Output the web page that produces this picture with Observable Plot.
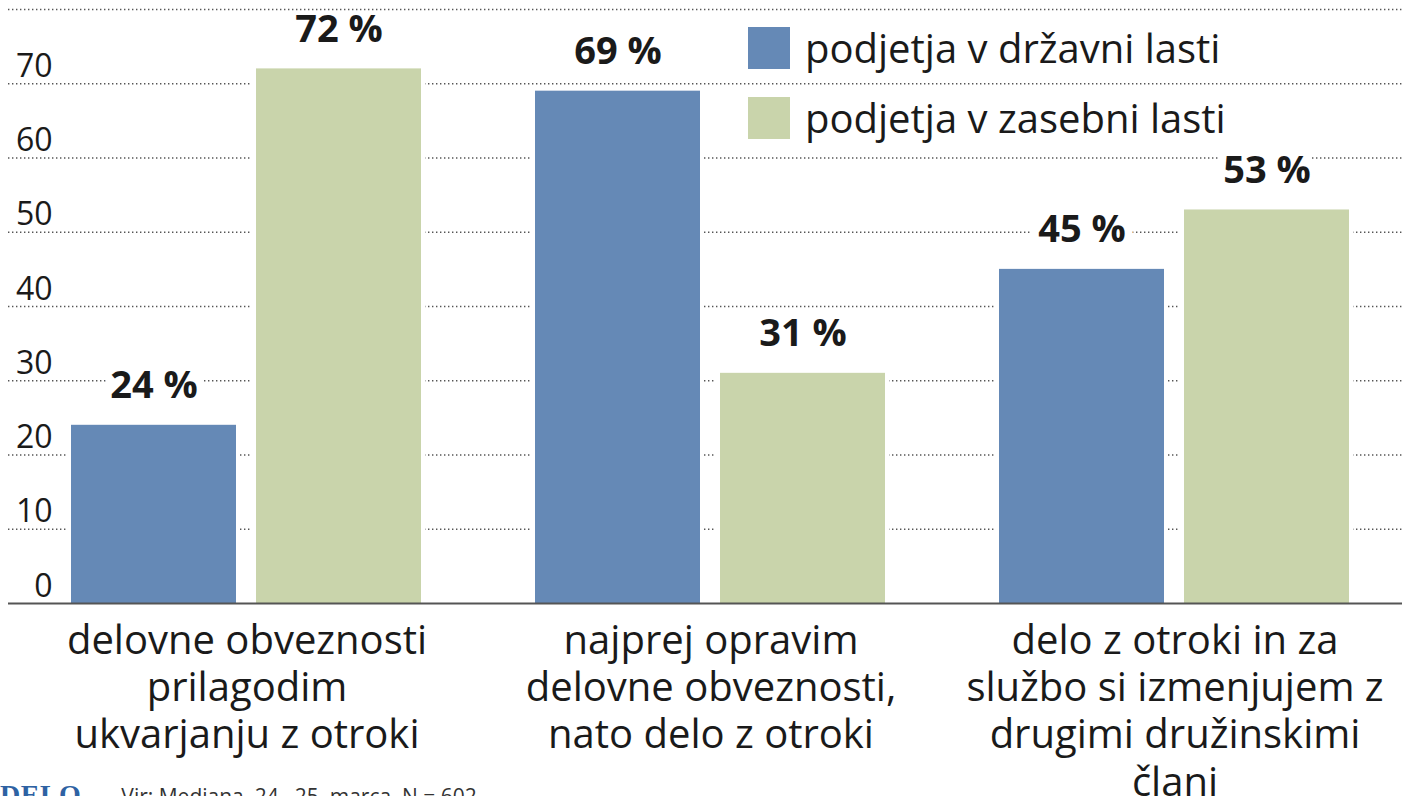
<!DOCTYPE html>
<html>
<head>
<meta charset="utf-8">
<script src="https://cdn.jsdelivr.net/npm/d3@7"></script>
<script src="https://cdn.jsdelivr.net/npm/@observablehq/plot@0.6"></script>
<style>
  body { margin: 0; background: white; font-family: "Open Sans", sans-serif; }
  #wrap { position: relative; width: 1402px; height: 796px; overflow: hidden; background: white; }
  .layer { position: absolute; left: 0; top: 0; }
  #legend { position: absolute; left: 748px; top: 27px; }
  .lg-swatch { padding-bottom: 28px !important; line-height: 42px; }
  .lg-swatch > svg { margin-right: 15px !important; }
  .lg-swatch-label { color: #1a1a1a; overflow: visible !important; }
  #caption { position: absolute; left: 0; top: 779px; white-space: nowrap; }
  #caption .logo { font-family: "Liberation Serif", "DejaVu Serif", serif; font-weight: bold; color: #2e62a3; font-size: 28px; letter-spacing: 0.5px; }
  #caption .src { font-family: "Open Sans", sans-serif; font-size: 21px; color: #333; margin-left: 40px; }
</style>
</head>
<body>
<div id="wrap">
  <div id="grid" class="layer"></div>
  <div id="bars" class="layer"></div>
  <div id="axis" class="layer"></div>
  <div id="legend"></div>
  <div id="caption"><span class="logo">DELO</span><span class="src">Vir: Mediana, 24.–25. marca, N = 602</span></div>
</div>
<script>
const categories = [
  "delovne obveznosti\nprilagodim\nukvarjanju z otroki",
  "najprej opravim\ndelovne obveznosti,\nnato delo z otroki",
  "delo z otroki in za\nslužbo si izmenjujem z\ndrugimi družinskimi\nčlani"
];
const series = ["podjetja v državni lasti", "podjetja v zasebni lasti"];
const stateValues = [24, 69, 45];
const privateValues = [72, 31, 53];
const colors = ["#6589b6", "#c9d4ab"];
const yTickLabels = [0, 10, 20, 30, 40, 50, 60, 70];
const gridValues = [10, 20, 30, 40, 50, 60, 70];
const topGrid = [80];

const data = categories.flatMap((c, i) => [
  {cat: c, series: series[0], value: stateValues[i]},
  {cat: c, series: series[1], value: privateValues[i]}
]);

const font = "'Open Sans', sans-serif";
const frame = {width: 1402, height: 782, marginTop: 9, marginBottom: 179, marginLeft: 18, marginRight: 0};
const yScale = {domain: [0, 80], axis: null};
const dotted = {stroke: "#555", strokeWidth: 1.4, strokeDasharray: "1.4,2.6", insetLeft: -10};

// Layer 1: dotted grid lines
const gridPlot = Plot.plot({
  ...frame,
  style: {fontFamily: font, overflow: "visible", background: "white"},
  y: yScale,
  marks: [Plot.ruleY(gridValues, dotted)]
});
document.getElementById("grid").appendChild(gridPlot);

// Layer 2: grouped bars, value labels, category labels
const barPlot = Plot.plot({
  ...frame,
  style: {fontFamily: font, overflow: "visible", background: "transparent", color: "#1a1a1a"},
  fx: {domain: categories, paddingInner: 0.2443, paddingOuter: 0.112, axis: null, label: null},
  x: {domain: series, paddingInner: 0.1075, paddingOuter: 0, axis: null},
  y: yScale,
  color: {domain: series, range: colors},
  marks: [
    Plot.barY(data, {fx: "cat", x: "series", y: "value", fill: "white", insetLeft: -4, insetRight: -4, insetTop: -4}),
    Plot.barY(data, {fx: "cat", x: "series", y: "value", fill: "series"}),
    Plot.text(data, {
      fx: "cat", x: "series", y: "value",
      text: d => d.value + " %",
      lineAnchor: "bottom", dy: -27,
      fontSize: 38, fontWeight: "bold", fill: "#1a1a1a",
      stroke: "white", strokeWidth: 16
    }),
    Plot.text(categories, {
      fx: d => d, text: d => d,
      frameAnchor: "bottom", lineAnchor: "top", dy: 17,
      fontSize: 40, lineHeight: 1.18, fill: "#1a1a1a"
    })
  ]
});
document.getElementById("bars").appendChild(barPlot);

// Layer 3: top grid line, baseline and y tick labels
const axisPlot = Plot.plot({
  ...frame,
  style: {fontFamily: font, overflow: "visible", background: "transparent", color: "#1a1a1a"},
  y: yScale,
  marks: [
    Plot.ruleY(topGrid, dotted),
    Plot.ruleY([0], {stroke: "#555", strokeWidth: 2.2, insetLeft: -10}),
    Plot.text(yTickLabels, {
      y: d => d, text: d => String(d),
      frameAnchor: "left", textAnchor: "end", dx: 34,
      lineAnchor: "bottom", dy: -7, fontSize: 32, fill: "#1a1a1a"
    })
  ]
});
document.getElementById("axis").appendChild(axisPlot);

const legend = Plot.legend({
  color: {domain: series, range: colors},
  legend: "swatches",
  columns: 1,
  swatchSize: 42,
  className: "lg",
  style: {fontSize: "40px", fontFamily: font, margin: 0}
});
document.getElementById("legend").appendChild(legend);
</script>
</body>
</html>
